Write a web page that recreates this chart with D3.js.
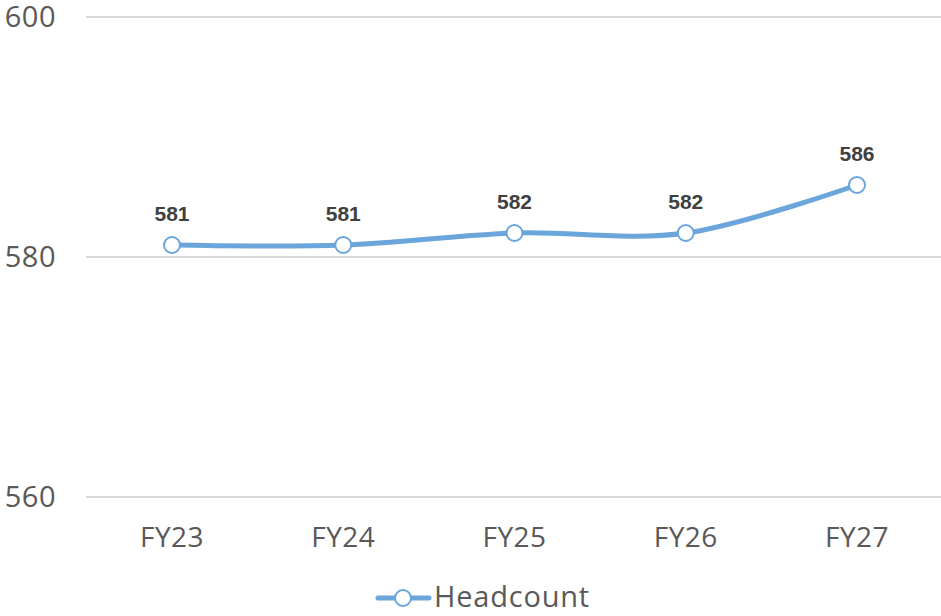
<!DOCTYPE html>
<html>
<head>
<meta charset="utf-8">
<script src="https://cdn.jsdelivr.net/npm/d3@7"></script>
<style>
  body { margin: 0; background: #fff; }
  svg { display: block; }
</style>
</head>
<body>
<div id="chart"></div>
<script>
// chart data
const years = ["FY23", "FY24", "FY25", "FY26", "FY27"];
const headcount = [581, 581, 582, 582, 586];
const yTicks = [560, 580, 600];
const seriesName = "Headcount";

const width = 941, height = 616;
const lineColor = "#6aa5dc";
const textColor = "#595959";

const svg = d3.select("#chart")
  .append("svg")
  .attr("width", width)
  .attr("height", height);

// scales
const y = d3.scaleLinear()
  .domain([560, 600])
  .range([497, 17]);

const x = d3.scalePoint()
  .domain(years)
  .range([172, 857]);

// gridlines
svg.append("g")
  .selectAll("line")
  .data(yTicks)
  .enter()
  .append("line")
    .attr("x1", 86)
    .attr("x2", 941)
    .attr("y1", d => y(d))
    .attr("y2", d => y(d))
    .attr("stroke", "#d9d9d9")
    .attr("stroke-width", 2);

// y axis labels
svg.append("g")
  .selectAll("text")
  .data(yTicks)
  .enter()
  .append("text")
    .attr("x", 56)
    .attr("y", d => y(d) + 10)
    .attr("text-anchor", "end")
    .attr("font-family", "Open Sans, sans-serif")
    .attr("font-size", "29px")
    .attr("letter-spacing", "0.5px")
    .attr("fill", textColor)
    .text(d => d);

// x axis labels
svg.append("g")
  .selectAll("text")
  .data(years)
  .enter()
  .append("text")
    .attr("x", d => x(d))
    .attr("y", 547)
    .attr("text-anchor", "middle")
    .attr("font-family", "Open Sans, sans-serif")
    .attr("font-size", "28px")
    .attr("letter-spacing", "0.5px")
    .attr("fill", textColor)
    .text(d => d);

const pts = years.map((d, i) => ({ year: d, value: headcount[i] }));

// the smooth line
const line = d3.line()
  .x(d => x(d.year))
  .y(d => y(d.value))
  .curve(d3.curveCardinal.tension(0));

svg.append("path")
  .datum(pts)
  .attr("d", line)
  .attr("fill", "none")
  .attr("stroke", lineColor)
  .attr("stroke-width", 5)
  .attr("stroke-linecap", "round");

// markers
svg.selectAll(".marker")
  .data(pts)
  .enter()
  .append("circle")
    .attr("class", "marker")
    .attr("cx", d => x(d.year))
    .attr("cy", d => y(d.value))
    .attr("r", 8)
    .attr("fill", "#fff")
    .attr("stroke", lineColor)
    .attr("stroke-width", 2);

// data labels
svg.selectAll(".label")
  .data(pts)
  .enter()
  .append("text")
    .attr("class", "label")
    .attr("x", d => x(d.year))
    .attr("y", d => y(d.value) - 24)
    .attr("text-anchor", "middle")
    .attr("font-family", "Liberation Sans, Arial, sans-serif")
    .attr("font-weight", "bold")
    .attr("font-size", "21px")
    .attr("fill", "#404040")
    .text(d => d.value);

// legend
const legend = svg.append("g");
legend.append("line")
  .attr("x1", 378).attr("x2", 429)
  .attr("y1", 598).attr("y2", 598)
  .attr("stroke", lineColor)
  .attr("stroke-width", 5)
  .attr("stroke-linecap", "round");
legend.append("circle")
  .attr("cx", 403).attr("cy", 598)
  .attr("r", 8)
  .attr("fill", "#fff")
  .attr("stroke", lineColor)
  .attr("stroke-width", 2);
legend.append("text")
  .attr("x", 434)
  .attr("y", 607)
  .attr("font-family", "Open Sans, sans-serif")
  .attr("font-size", "29px")
  .attr("letter-spacing", "0.8px")
  .attr("fill", textColor)
  .text(seriesName);
</script>
</body>
</html>
